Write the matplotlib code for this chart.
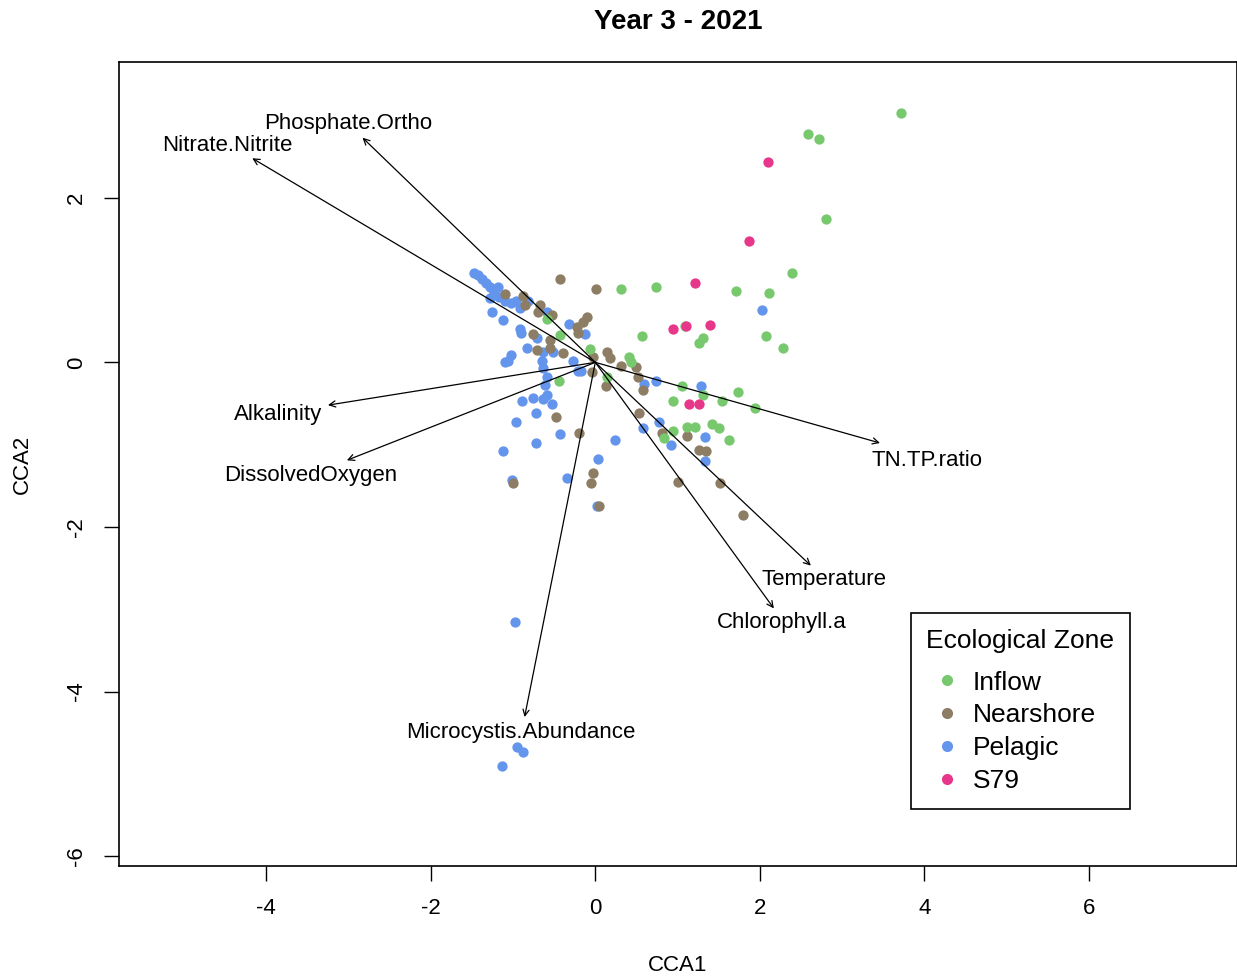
import matplotlib
matplotlib.use("Agg")
import matplotlib.pyplot as plt
import numpy as np

plt.rcParams["font.family"] = ["Liberation Sans", "DejaVu Sans"]
plt.rcParams["axes.unicode_minus"] = False

# site scores (CCA1, CCA2) by ecological zone
inflow_x = [3.72, 2.59, 2.72, 2.80, 2.39, 1.71, 2.11, 0.74, 0.31, 2.07, 2.28, 1.31,
            1.26, 1.09, 0.57, -0.07, 0.41, 0.43, 0.14, 1.05, 1.31, 1.54, 1.74, 0.95,
            1.94, 1.12, 1.21, 1.42, 1.50, 0.94, 0.84, 1.62, -0.44, -0.59, -0.43]
inflow_y = [3.03, 2.77, 2.72, 1.74, 1.08, 0.87, 0.84, 0.92, 0.89, 0.32, 0.18, 0.29,
            0.23, 0.44, 0.32, 0.16, 0.07, 0.00, -0.18, -0.29, -0.40, -0.47, -0.36, -0.47,
            -0.55, -0.78, -0.78, -0.75, -0.80, -0.84, -0.92, -0.94, -0.23, 0.53, 0.33]

nearshore_x = [-0.43, 0.01, -1.10, -0.88, -0.86, -0.67, -0.70, -0.53, -0.10, -0.15,
               -0.22, -0.21, -0.76, -0.55, -0.55, -0.71, -0.39, -0.03, 0.14, 0.18,
               -0.04, 0.31, 0.50, 0.52, 0.13, 0.58, 0.53, 0.81, 1.11, 1.26, 1.34,
               -0.48, -0.20, -0.03, -0.05, -1.00, 0.04, 1.01, 1.51, 1.79]
nearshore_y = [1.01, 0.89, 0.83, 0.81, 0.70, 0.70, 0.61, 0.57, 0.55, 0.49,
               0.43, 0.36, 0.35, 0.27, 0.18, 0.15, 0.11, 0.06, 0.12, 0.05,
               -0.12, -0.05, -0.06, -0.18, -0.29, -0.33, -0.62, -0.86, -0.89, -1.06, -1.08,
               -0.66, -0.86, -1.34, -1.46, -1.46, -1.75, -1.45, -1.47, -1.86]

pelagic_x = [-1.48, -1.43, -1.38, -1.33, -1.28, -1.23, -1.17, -1.10, -1.03, -0.97,
             -0.92, -1.18, -1.28, -1.26, -1.12, -0.82, -0.59, -0.91, -0.90, -0.32,
             -0.13, -0.83, -0.71, -0.64, -0.52, -0.27, -1.03, -1.06, -1.10, -0.65,
             -0.64, -0.59, -0.61, -0.21, -0.18, -0.89, -0.76, -0.59, -0.63, -0.53,
             -0.72, -0.97, -0.43, -0.72, -1.12, 0.24, 0.03, -0.35, -1.01, 0.02,
             0.59, 0.74, 1.28, 0.78, 0.58, 0.92, 1.33, 1.33, 2.02, -0.98,
             -0.95, -0.88, -1.14]
pelagic_y = [1.09, 1.06, 1.01, 0.96, 0.91, 0.85, 0.80, 0.75, 0.72, 0.75,
             0.66, 0.92, 0.78, 0.61, 0.52, 0.75, 0.61, 0.41, 0.36, 0.46,
             0.35, 0.18, 0.30, 0.12, 0.12, 0.02, 0.09, 0.02, 0.00, 0.02,
             -0.07, -0.18, -0.28, -0.10, -0.10, -0.47, -0.43, -0.40, -0.44, -0.50,
             -0.62, -0.73, -0.87, -0.98, -1.08, -0.94, -1.17, -1.40, -1.43, -1.75,
             -0.26, -0.23, -0.29, -0.72, -0.80, -1.00, -0.91, -1.20, 0.64, -3.16,
             -4.68, -4.74, -4.90]

s79_x = [2.10, 1.87, 1.21, 0.94, 1.10, 1.39, 1.14, 1.26]
s79_y = [2.43, 1.48, 0.96, 0.41, 0.44, 0.45, -0.51, -0.50]

# environmental biplot arrows
env_names = ["Nitrate.Nitrite", "Phosphate.Ortho", "Alkalinity", "DissolvedOxygen",
             "TN.TP.ratio", "Temperature", "Chlorophyll.a", "Microcystis.Abundance"]
env_x = [-4.17, -2.83, -3.25, -3.02, 3.46, 2.62, 2.17, -0.86]
env_y = [2.48, 2.73, -0.52, -1.19, -0.98, -2.47, -2.99, -4.31]
label_x = [-4.47, -3.01, -3.86, -3.46, 4.03, 2.78, 2.27, -0.90]
label_y = [2.64, 2.90, -0.63, -1.37, -1.19, -2.64, -3.16, -4.50]

zones = ["Inflow", "Nearshore", "Pelagic", "S79"]
colors = {"Inflow": "#78C86E", "Nearshore": "#8C7D64",
          "Pelagic": "#6495ED", "S79": "#E6378A"}

fig = plt.figure(figsize=(12.37, 9.76), dpi=100)
ax = fig.add_axes([0.0962, 0.1127, 0.9038, 0.8238])

ax.scatter(pelagic_x, pelagic_y, s=55, color=colors["Pelagic"], linewidths=0, zorder=2)
ax.scatter(nearshore_x, nearshore_y, s=55, color=colors["Nearshore"], linewidths=0, zorder=2)
ax.scatter(inflow_x, inflow_y, s=55, color=colors["Inflow"], linewidths=0, zorder=2)
ax.scatter(s79_x, s79_y, s=55, color=colors["S79"], linewidths=0, zorder=2)

for name, ex, ey, lx, ly in zip(env_names, env_x, env_y, label_x, label_y):
    ax.annotate("", xy=(ex, ey), xytext=(0, 0),
                arrowprops=dict(arrowstyle="->", lw=0.9, color="black",
                                shrinkA=0, shrinkB=0, mutation_scale=11),
                zorder=3)
    ax.text(lx, ly, name, ha="center", va="center", fontsize=16, zorder=4)

ax.set_xlim(-5.79, 7.80)
ax.set_ylim(-6.12, 3.65)
ax.set_xticks([-4, -2, 0, 2, 4, 6])
ax.set_yticks([-6, -4, -2, 0, 2])
ax.tick_params(axis="both", direction="out", length=11, width=1, labelsize=16, pad=12)
for lab in ax.get_yticklabels():
    lab.set_rotation(90)
    lab.set_va("center")
for sp in ax.spines.values():
    sp.set_linewidth(1.2)

ax.set_xlabel("CCA1", fontsize=16, labelpad=26)
ax.set_ylabel("CCA2", fontsize=16, labelpad=24)
fig.text(0.548, 0.977, "Year 3 - 2021", ha="center", va="center",
         fontsize=20, fontweight="bold")

handles = [plt.Line2D([], [], marker="o", linestyle="", markersize=8,
                      markerfacecolor=colors[z], markeredgewidth=0) for z in zones]
leg = ax.legend(handles, zones, title="Ecological Zone", loc="upper left",
                bbox_to_anchor=(0.708, 0.315), fontsize=19, title_fontsize=19,
                frameon=True, fancybox=False, edgecolor="black", framealpha=1,
                handletextpad=0.15, labelspacing=0.33, borderpad=0.6,
                handlelength=1.6, borderaxespad=0)
leg.get_frame().set_linewidth(1.2)
leg._legend_box.align = "left"
leg._legend_box.sep = 13

fig.savefig("out.png", dpi=100)
